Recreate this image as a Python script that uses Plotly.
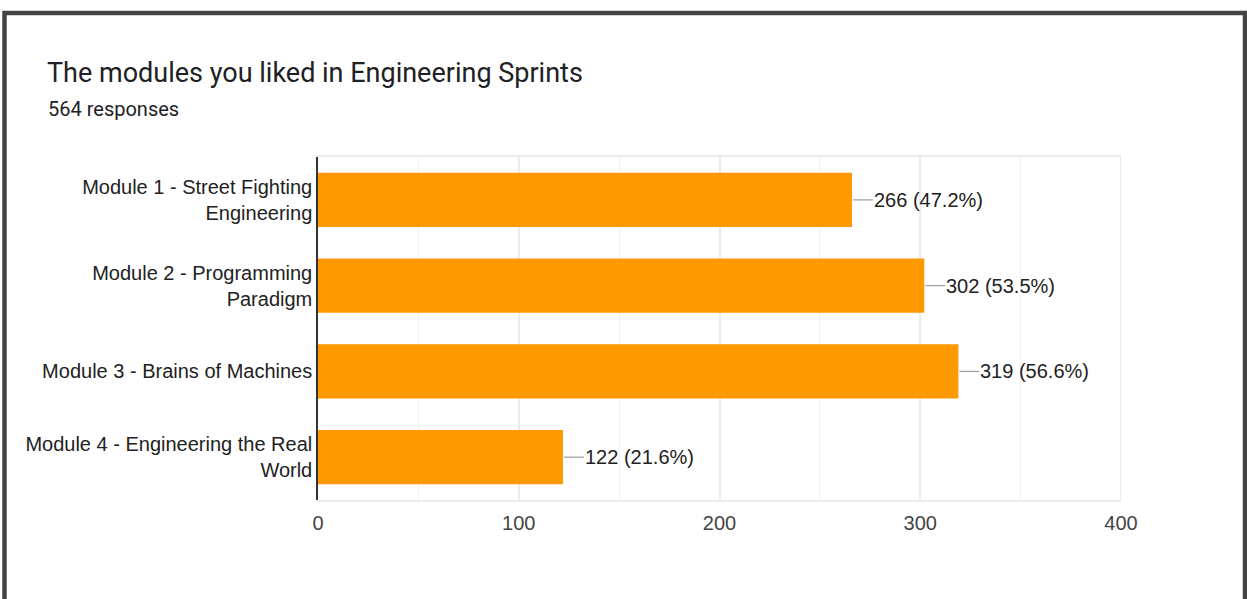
import plotly.graph_objects as go

categories = [
    "Module 1 - Street Fighting<br>Engineering",
    "Module 2 - Programming<br>Paradigm",
    "Module 3 - Brains of Machines",
    "Module 4 - Engineering the Real<br>World",
]
counts = [266, 302, 319, 122]
total_responses = 564
x_ticks = [0, 100, 200, 300, 400]

title_text = "The modules you liked in Engineering Sprints"
subtitle_text = f"{total_responses} responses"

W, H = 1247, 599
L, R, T, B = 318, 1121, 157, 500


def px_x(p):
    return (p - L) / (R - L)


def px_y(p):
    return (B - p) / (B - T)


labels = [f"{c} ({c / total_responses * 100:.1f}%)" for c in counts]

fig = go.Figure(
    go.Bar(
        x=counts,
        y=categories,
        orientation="h",
        marker=dict(color="#ff9900", line=dict(width=0)),
        hoverinfo="skip",
    )
)

shapes = []
annotations = []
for cat, c, lab in zip(categories, counts, labels):
    shapes.append(dict(
        type="line", xref="x", yref="y", xsizemode="pixel", xanchor=c,
        x0=1, x1=21, y0=cat, y1=cat,
        line=dict(color="#9e9e9e", width=1.2),
    ))
    annotations.append(dict(
        x=c, y=cat, xref="x", yref="y", text=lab, showarrow=False,
        xanchor="left", yanchor="middle", xshift=20,
        font=dict(family="Liberation Sans, Arial", size=20, color="#222222"),
    ))

# right border of plot area
shapes.append(dict(
    type="line", xref="x", yref="paper", x0=x_ticks[-1], x1=x_ticks[-1], y0=0, y1=1,
    line=dict(color="#ececec", width=2), layer="below",
))

# outer frame
shapes.append(dict(
    type="rect", xref="paper", yref="paper",
    x0=px_x(4.5), x1=px_x(1245), y0=px_y(13), y1=px_y(700),
    line=dict(color="#444444", width=4.5), layer="above",
))

annotations.append(dict(
    xref="paper", yref="paper", x=px_x(45), y=px_y(73), text=title_text,
    showarrow=False, xanchor="left", yanchor="middle",
    font=dict(family="Roboto", size=27, color="#202124"),
))
annotations.append(dict(
    xref="paper", yref="paper", x=px_x(46), y=px_y(109), text=subtitle_text,
    showarrow=False, xanchor="left", yanchor="middle",
    font=dict(family="Roboto", size=20, color="#202124"),
))

fig.update_layout(
    width=W, height=H,
    margin=dict(l=L, r=W - R, t=T, b=H - B),
    paper_bgcolor="white", plot_bgcolor="white",
    showlegend=False,
    bargap=0.37,
    shapes=shapes,
    annotations=annotations,
    xaxis=dict(
        range=[0, 400], tickvals=x_ticks, ticktext=[str(v) for v in x_ticks],
        showgrid=True, gridcolor="#ececec", gridwidth=1.5,
        minor=dict(dtick=50, showgrid=True, gridcolor="#f2f2f2", gridwidth=1),
        showline=True, linecolor="#ececec", linewidth=2, mirror=True,
        zeroline=False, ticks="", ticklabelstandoff=4,
        tickfont=dict(family="Liberation Sans, Arial", size=20, color="#444444"),
        fixedrange=True,
    ),
    yaxis=dict(
        autorange="reversed", showgrid=False,
        showline=True, linecolor="#333333", linewidth=1.5,
        ticks="", ticklabelstandoff=0,
        tickfont=dict(family="Liberation Sans, Arial", size=20, color="#222222"),
        fixedrange=True,
    ),
)

fig.write_html("out.html", config={"displayModeBar": False})
